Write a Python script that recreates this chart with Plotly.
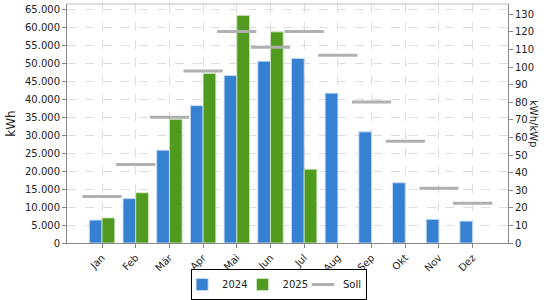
import plotly.graph_objects as go

months = ["Jan", "Feb", "Mär", "Apr", "Mai", "Jun", "Jul", "Aug", "Sep", "Okt", "Nov", "Dez"]
y2024 = [6400, 12400, 25900, 38300, 46700, 50700, 51500, 41800, 31000, 16800, 6600, 6100]
y2025 = [7000, 14000, 34500, 47300, 63500, 58900, 20600, None, None, None, None, None]
soll = [13000, 21900, 35100, 48000, 59000, 54600, 59000, 52400, 39300, 28400, 15300, 11100]
kwp = 490.6
ymax = 66670

font = "DejaVu Sans"
fig = go.Figure()
fig.add_trace(go.Bar(x=months, y=y2024, name="2024",
                     marker=dict(color="#3580d0", line=dict(color="rgba(200,220,245,0.9)", width=1))))
fig.add_trace(go.Bar(x=months, y=y2025, name="2025",
                     marker=dict(color="#4f9a1f", line=dict(color="rgba(205,230,190,0.9)", width=1))))
fig.add_trace(go.Scatter(x=months, y=soll, name="Soll", mode="markers",
                         marker=dict(symbol="line-ew", size=28, color="#b0b0b0",
                                     line=dict(color="#b0b0b0", width=3))))
# invisible trace for right axis
fig.add_trace(go.Scatter(x=months, y=[v / kwp for v in y2024], yaxis="y2", mode="markers",
                         marker=dict(opacity=0), showlegend=False, hoverinfo="skip"))

fig.update_layout(
    width=560, height=300,
    margin=dict(l=67, r=52, t=4, b=57, autoexpand=False),
    paper_bgcolor="white", plot_bgcolor="white",
    font=dict(family=font, size=10, color="#222"),
    separators=",.",
    barmode="group", bargap=0.246, bargroupgap=0,
    showlegend=True,
    legend=dict(orientation="h", x=0.481, xanchor="center", y=-0.2385, yanchor="bottom",
                bordercolor="black", borderwidth=1, bgcolor="white",
                font=dict(size=10), itemwidth=30, indentation=-10, tracegroupgap=0),
    xaxis=dict(range=[-1.04, 12.05], tickangle=-45, showgrid=True, automargin=False,
               gridcolor="#dddddd", griddash="dash", showline=True, linecolor="#888",
               linewidth=1, mirror=False, ticks="outside", ticklen=4, tickcolor="#888"),
    yaxis=dict(range=[0, ymax], dtick=5000, tickformat=",d", showgrid=True, automargin=False,
               gridcolor="#dddddd", griddash="dash", showline=True, linecolor="#888",
               ticks="outside", ticklen=4, tickcolor="#888", zeroline=False,
               title=dict(text="kWh", standoff=6)),
    yaxis2=dict(range=[0, ymax / kwp], dtick=10, overlaying="y", side="right", automargin=False,
                showgrid=False, showline=True, linecolor="#888", ticks="outside",
                ticklen=4, tickcolor="#888", zeroline=False),
    shapes=[dict(type="line", xref="paper", yref="paper", x0=0, x1=1, y0=1, y1=1,
                 line=dict(color="#bbbbbb", width=1))],
    annotations=[dict(text="kWh/kWp", xref="paper", yref="paper", x=1.0, xshift=33,
                      y=0.5, textangle=90, showarrow=False, font=dict(size=10))],
)
fig.write_html("out.html")
